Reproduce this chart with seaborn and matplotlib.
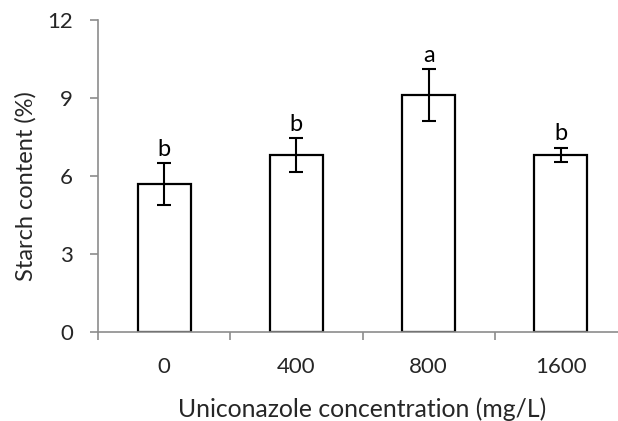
import numpy as np
import pandas as pd
import matplotlib.pyplot as plt
import seaborn as sns

# Values
concentrations = ["0", "400", "800", "1600"]
starch_mean = [5.7, 6.8, 9.1, 6.8]
starch_err = [0.8, 0.66, 1.0, 0.28]
letters = ["b", "b", "a", "b"]

df = pd.DataFrame({"conc": concentrations, "starch": starch_mean})

sns.set_theme(style="white")
plt.rcParams['font.family'] = ['Lato', 'DejaVu Sans']

fig = plt.figure(figsize=(6.18, 4.21), dpi=100)
ax = fig.add_axes([98 / 618, 89 / 421, 529 / 618, 312 / 421])

sns.barplot(data=df, x="conc", y="starch", ax=ax, width=0.4,
            color="white", edgecolor="black", linewidth=1.6, errorbar=None)

# error bars on the categorical positions
pos = np.arange(len(concentrations))
ax.errorbar(pos, starch_mean, yerr=starch_err, fmt="none", ecolor="black",
            elinewidth=1.5, capsize=5, capthick=1.5)

# significance letters
for x, m, e, t in zip(pos, starch_mean, starch_err, letters):
    ax.annotate(t, (x, m + e), xytext=(0, 2.5), textcoords="offset points",
                ha="center", va="bottom", fontsize=17, color="black")

ax.set_xlim(-0.5, 3.5)
ax.set_ylim(0, 12)
ax.set_yticks([0, 3, 6, 9, 12])
# category boundary ticks
ax.set_xticks(np.append(pos - 0.5, pos[-1] + 0.5), minor=True)

sns.despine(ax=ax)
for s in ["left", "bottom"]:
    ax.spines[s].set_color("#8c8c8c")
    ax.spines[s].set_linewidth(1.2)

ax.tick_params(axis="y", which="major", direction="out", length=6, width=1.2,
               color="#8c8c8c", labelsize=16, pad=12, left=True)
ax.tick_params(axis="x", which="major", length=0, labelsize=16, pad=18)
ax.tick_params(axis="x", which="minor", direction="out", length=6, width=1.2,
               color="#8c8c8c", bottom=True)

ax.set_ylabel("Starch content (%)", fontsize=17)
ax.yaxis.set_label_coords(-0.116, 0.468)
ax.set_xlabel("Uniconazole concentration (mg/L)", fontsize=17.8)
ax.xaxis.set_label_coords(0.5, -0.21)

fig.savefig("out.png", dpi=100)
